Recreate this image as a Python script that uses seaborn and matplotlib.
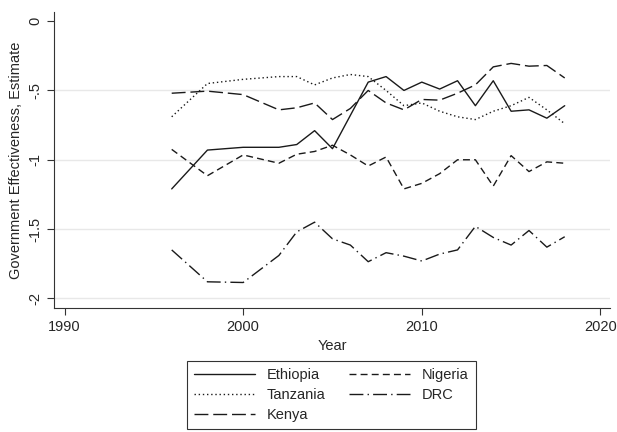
import numpy as np
import pandas as pd
import matplotlib
matplotlib.use('Agg')
import matplotlib.pyplot as plt
import seaborn as sns

# === Data ===
years = [1996, 1998, 2000, 2002, 2003, 2004, 2005, 2006, 2007, 2008,
         2009, 2010, 2011, 2012, 2013, 2014, 2015, 2016, 2017, 2018]
ethiopia = [-1.21, -0.93, -0.91, -0.91, -0.89, -0.79, -0.92, -0.68, -0.44, -0.40,
            -0.50, -0.44, -0.49, -0.43, -0.61, -0.43, -0.65, -0.64, -0.70, -0.61]
tanzania = [-0.69, -0.45, -0.42, -0.40, -0.40, -0.46, -0.41, -0.385, -0.40, -0.50,
            -0.61, -0.59, -0.65, -0.69, -0.71, -0.65, -0.61, -0.55, -0.64, -0.74]
kenya = [-0.52, -0.505, -0.53, -0.64, -0.625, -0.59, -0.71, -0.63, -0.50, -0.59,
         -0.64, -0.565, -0.57, -0.52, -0.46, -0.33, -0.305, -0.325, -0.32, -0.41]
nigeria = [-0.925, -1.115, -0.965, -1.025, -0.96, -0.94, -0.895, -0.965, -1.045, -0.98,
           -1.21, -1.17, -1.10, -1.00, -1.00, -1.19, -0.97, -1.085, -1.015, -1.025]
drc = [-1.65, -1.88, -1.885, -1.69, -1.52, -1.45, -1.57, -1.615, -1.735, -1.67,
       -1.695, -1.73, -1.68, -1.65, -1.48, -1.56, -1.615, -1.51, -1.63, -1.555]

countries = ['Ethiopia', 'Tanzania', 'Kenya', 'Nigeria', 'DRC']
series = [ethiopia, tanzania, kenya, nigeria, drc]
styles = {
    'Ethiopia': '-',
    'Tanzania': (0, (1, 2)),
    'Kenya': (0, (10, 3.5)),
    'Nigeria': (0, (5, 3)),
    'DRC': (0, (10, 3, 1, 3)),
}
yticks = [0, -0.5, -1, -1.5, -2]
ytick_labels = ['0', '-.5', '-1', '-1.5', '-2']

df = pd.DataFrame({
    'Year': np.tile(years, len(countries)),
    'Estimate': np.concatenate(series),
    'Country': np.repeat(countries, len(years)),
})

# === Plot ===
sns.set_style('white')
plt.rcParams['font.family'] = ['Liberation Sans', 'DejaVu Sans']
fs = 10.5

fig = plt.figure(figsize=(6.17, 4.32), dpi=100)
ax = fig.add_axes([0.0875, 0.287, 0.901, 0.685])

# light grid lines (none at zero, like the original)
for y in yticks[1:]:
    ax.axhline(y, color='#e8e8e8', linewidth=1.0, zorder=0)

for c in countries:
    sub = df[df['Country'] == c]
    sns.lineplot(data=sub, x='Year', y='Estimate', ax=ax, color='#1a1a1a',
                 linewidth=1.0, linestyle=styles[c], label=c)

ax.set_xlim(1989.41, 2020.53)
ax.set_ylim(-2.069, 0.065)
ax.set_xticks([1990, 2000, 2010, 2020])
ax.set_yticks(yticks)
ax.set_yticklabels(ytick_labels, rotation=90, va='center')
ax.tick_params(axis='both', labelsize=fs, length=5, width=0.8, color='#333333',
               left=True, bottom=True)
ax.grid(False)
sns.despine(ax=ax)
for s in ['left', 'bottom']:
    ax.spines[s].set_color('#333333')
    ax.spines[s].set_linewidth(0.8)

ax.set_xlabel('Year', fontsize=fs)
ax.set_ylabel('Government Effectiveness, Estimate', fontsize=fs)

handles, labels = ax.get_legend_handles_labels()
leg = ax.legend(handles, labels, ncol=2, loc='upper center', bbox_to_anchor=(0.537, 0.165),
                bbox_transform=fig.transFigure, fontsize=fs, frameon=True, fancybox=False,
                edgecolor='black', handlelength=4.2, labelspacing=0.4, columnspacing=1.6,
                borderpad=0.5, borderaxespad=0)
leg.get_frame().set_linewidth(0.8)

fig.savefig('out.png', dpi=100)
